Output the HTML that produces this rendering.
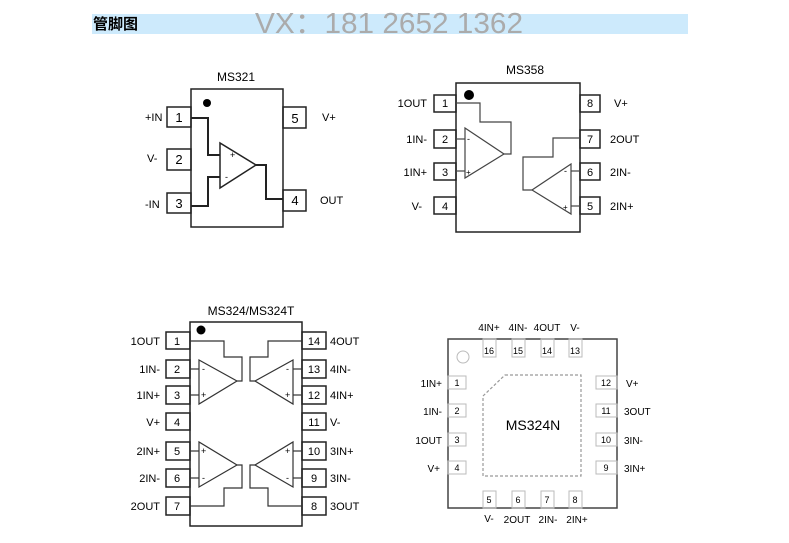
<!DOCTYPE html>
<html><head><meta charset="utf-8"><style>
html,body{margin:0;padding:0;background:#fff;}
svg{display:block;font-family:"Liberation Sans","Noto Sans CJK SC",sans-serif;}
</style></head><body>
<svg width="789" height="543" viewBox="0 0 789 543" xmlns="http://www.w3.org/2000/svg">
<rect x="92" y="14" width="596" height="20" fill="#cdeafc"/>
<text x="93" y="29" font-size="15" font-weight="bold" font-family="'Noto Sans CJK SC',sans-serif" fill="#000">管脚图</text>
<text x="255" y="33" font-size="29" fill="#ababab" textLength="268" lengthAdjust="spacingAndGlyphs">VX：181 2652 1362</text>

<!-- MS321 -->
<g fill="none" stroke="#222" stroke-width="1.5">
<rect x="191" y="89" width="92" height="138"/>
<rect x="167" y="107" width="24" height="20"/>
<rect x="167" y="149" width="24" height="21"/>
<rect x="167" y="193" width="24" height="20"/>
<rect x="283" y="107" width="23" height="21"/>
<rect x="283" y="190" width="23" height="21"/>
<polygon points="220,143 220,188 256,165"/>
<polyline points="191,118 208,118 208,155 220,155" stroke-width="2"/>
<polyline points="191,206 208,206 208,177 220,177" stroke-width="2"/>
<polyline points="256,165 266,165 266,199 283,199" stroke-width="2"/>
</g>
<circle cx="207" cy="103" r="4" fill="#000"/>
<g font-size="11" fill="#000">
<text x="236" y="81" text-anchor="middle" font-size="12">MS321</text>
<text x="145" y="121">+IN</text><text x="147" y="162">V-</text><text x="145" y="208">-IN</text>
<text x="322" y="121">V+</text><text x="320" y="204">OUT</text>
<g font-size="13" text-anchor="middle"><text x="179" y="122">1</text><text x="179" y="164">2</text><text x="179" y="208">3</text><text x="295" y="123">5</text><text x="295" y="205">4</text></g>
<text x="230" y="158" font-size="9">+</text><text x="225" y="180" font-size="9">-</text>
</g>

<!-- MS358 -->
<g fill="none" stroke="#222" stroke-width="1.5">
<rect x="456" y="83" width="124" height="149"/>
<rect x="434" y="95" width="22" height="17"/><rect x="434" y="130" width="22" height="18"/>
<rect x="434" y="163" width="22" height="17"/><rect x="434" y="197" width="22" height="17"/>
<rect x="580" y="95" width="20" height="17"/><rect x="580" y="130" width="20" height="18"/>
<rect x="580" y="163" width="20" height="17"/><rect x="580" y="197" width="20" height="17"/>
</g>
<g fill="none" stroke="#444" stroke-width="1.2">
<polygon points="465,128 465,178 504,154"/>
<line x1="456" y1="139" x2="465" y2="139"/><line x1="456" y1="171" x2="465" y2="171"/>
<polyline points="456,103 480,103 480,122 511,122 511,154 504,154"/>
<polygon points="571,164 571,214 532,190"/>
<line x1="571" y1="171" x2="580" y2="171"/><line x1="571" y1="206" x2="580" y2="206"/>
<polyline points="532,190 523,190 523,157 553,157 553,138 580,138"/>
</g>
<circle cx="469" cy="95" r="5" fill="#000"/>
<g font-size="11" fill="#000">
<text x="525" y="74" text-anchor="middle" font-size="12">MS358</text>
<g text-anchor="end"><text x="427" y="107">1OUT</text><text x="427" y="143">1IN-</text><text x="427" y="176">1IN+</text><text x="422" y="210">V-</text></g>
<text x="614" y="107">V+</text><text x="610" y="143">2OUT</text><text x="610" y="176">2IN-</text><text x="610" y="210">2IN+</text>
<g font-size="11" text-anchor="middle"><text x="445" y="107">1</text><text x="445" y="143">2</text><text x="445" y="176">3</text><text x="445" y="210">4</text>
<text x="590" y="107">8</text><text x="590" y="143">7</text><text x="590" y="176">6</text><text x="590" y="210">5</text></g>
<text x="466" y="175" font-size="8">+</text><text x="467" y="142" font-size="9">-</text>
<text x="563" y="210" font-size="8">+</text><text x="564" y="174" font-size="9">-</text>
</g>

<!-- MS324 -->
<g fill="none" stroke="#222" stroke-width="1.5">
<rect x="190" y="322" width="112" height="204"/>
<rect x="166" y="332" width="24" height="17"/><rect x="166" y="360" width="24" height="18"/>
<rect x="166" y="386" width="24" height="18"/><rect x="166" y="413" width="24" height="17"/>
<rect x="166" y="442" width="24" height="18"/><rect x="166" y="469" width="24" height="18"/>
<rect x="166" y="497" width="24" height="18"/>
<rect x="302" y="332" width="24" height="17"/><rect x="302" y="360" width="24" height="18"/>
<rect x="302" y="386" width="24" height="18"/><rect x="302" y="413" width="24" height="17"/>
<rect x="302" y="442" width="24" height="18"/><rect x="302" y="469" width="24" height="18"/>
<rect x="302" y="497" width="24" height="18"/>
</g>
<g fill="none" stroke="#333" stroke-width="1.2">
<polygon points="199,360 199,404 237,381"/>
<line x1="190" y1="369" x2="199" y2="369"/><line x1="190" y1="395" x2="199" y2="395"/>
<polyline points="190,341 224,341 224,357 242,357 242,381 237,381"/>
<polygon points="293,360 293,404 255,381"/>
<line x1="302" y1="369" x2="293" y2="369"/><line x1="302" y1="395" x2="293" y2="395"/>
<polyline points="302,341 268,341 268,357 250,357 250,381 255,381"/>
<polygon points="199,442 199,487 237,465"/>
<line x1="190" y1="451" x2="199" y2="451"/><line x1="190" y1="478" x2="199" y2="478"/>
<polyline points="237,465 242,465 242,488 224,488 224,506 190,506"/>
<polygon points="293,442 293,487 255,465"/>
<line x1="302" y1="451" x2="293" y2="451"/><line x1="302" y1="478" x2="293" y2="478"/>
<polyline points="255,465 250,465 250,488 268,488 268,506 302,506"/>
</g>
<circle cx="201" cy="330" r="4.5" fill="#000"/>
<g font-size="11" fill="#000">
<text x="251" y="315" text-anchor="middle" font-size="12">MS324/MS324T</text>
<g text-anchor="end"><text x="160" y="345">1OUT</text><text x="160" y="373">1IN-</text><text x="160" y="399">1IN+</text><text x="160" y="426">V+</text><text x="160" y="455">2IN+</text><text x="160" y="482">2IN-</text><text x="160" y="510">2OUT</text></g>
<text x="330" y="345">4OUT</text><text x="330" y="373">4IN-</text><text x="330" y="399">4IN+</text><text x="330" y="426">V-</text><text x="330" y="455">3IN+</text><text x="330" y="482">3IN-</text><text x="330" y="510">3OUT</text>
<g text-anchor="middle"><text x="177" y="345">1</text><text x="177" y="373">2</text><text x="177" y="399">3</text><text x="177" y="426">4</text><text x="177" y="455">5</text><text x="177" y="482">6</text><text x="177" y="510">7</text>
<text x="314" y="345">14</text><text x="314" y="373">13</text><text x="314" y="399">12</text><text x="314" y="426">11</text><text x="314" y="455">10</text><text x="314" y="482">9</text><text x="314" y="510">8</text></g>
<g font-size="9"><text x="201" y="398">+</text><text x="202" y="372">-</text><text x="285" y="398">+</text><text x="286" y="372">-</text>
<text x="201" y="454">+</text><text x="202" y="481">-</text><text x="285" y="454">+</text><text x="286" y="481">-</text></g>
</g>

<!-- MS324N -->
<rect x="448" y="339" width="169" height="169" fill="none" stroke="#444" stroke-width="1.5"/>
<g fill="none" stroke="#bbb" stroke-width="1">
<rect x="483" y="339" width="13" height="18"/><rect x="512" y="339" width="13" height="18"/><rect x="541" y="339" width="13" height="18"/><rect x="569" y="339" width="13" height="18"/>
<rect x="483" y="491" width="13" height="17"/><rect x="512" y="491" width="13" height="17"/><rect x="541" y="491" width="13" height="17"/><rect x="569" y="491" width="13" height="17"/>
<rect x="448" y="376" width="18" height="13"/><rect x="448" y="404" width="18" height="13"/><rect x="448" y="433" width="18" height="13"/><rect x="448" y="461" width="18" height="13"/>
<rect x="596" y="376" width="21" height="13"/><rect x="596" y="404" width="21" height="13"/><rect x="596" y="433" width="21" height="13"/><rect x="596" y="461" width="21" height="13"/>
<circle cx="463" cy="357" r="6"/>
</g>
<polygon points="505,375 581,375 581,476 483,476 483,396" fill="none" stroke="#999" stroke-width="1.2" stroke-dasharray="3,2"/>
<g font-size="10" fill="#000">
<text x="533" y="430" font-size="14" text-anchor="middle">MS324N</text>
<g text-anchor="middle" font-size="9"><text x="489" y="354">16</text><text x="518" y="354">15</text><text x="547" y="354">14</text><text x="575" y="354">13</text>
<text x="489" y="503">5</text><text x="518" y="503">6</text><text x="547" y="503">7</text><text x="575" y="503">8</text>
<text x="457" y="386">1</text><text x="457" y="414">2</text><text x="457" y="443">3</text><text x="457" y="471">4</text>
<text x="606" y="386">12</text><text x="606" y="414">11</text><text x="606" y="443">10</text><text x="606" y="471">9</text></g>
<g text-anchor="middle"><text x="489" y="331">4IN+</text><text x="518" y="331">4IN-</text><text x="547" y="331">4OUT</text><text x="575" y="331">V-</text>
<text x="489" y="522">V-</text><text x="517" y="523">2OUT</text><text x="548" y="523">2IN-</text><text x="577" y="523">2IN+</text></g>
<g text-anchor="end"><text x="442" y="387">1IN+</text><text x="442" y="415">1IN-</text><text x="442" y="444">1OUT</text><text x="440" y="472">V+</text></g>
<text x="626" y="387">V+</text><text x="624" y="415">3OUT</text><text x="624" y="444">3IN-</text><text x="624" y="472">3IN+</text>
</g>
</svg>
</body></html>
